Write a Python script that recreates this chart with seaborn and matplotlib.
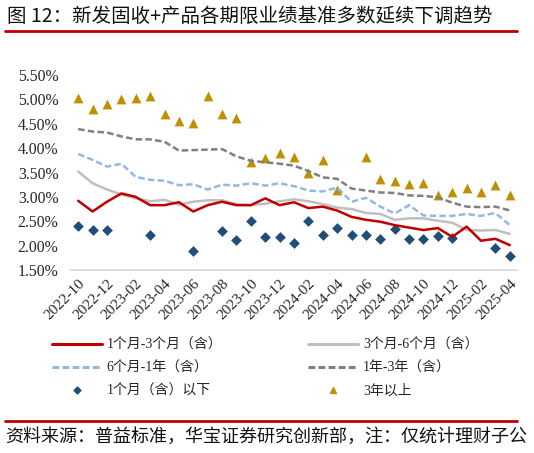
import numpy as np
import pandas as pd
import matplotlib
matplotlib.use("Agg")
import matplotlib.pyplot as plt
from matplotlib.lines import Line2D
import seaborn as sns

# monthly observations 2022-10 .. 2025-04
months = pd.date_range("2022-10-01", periods=31, freq="MS").strftime("%Y-%m").tolist()

m1_3 = [2.92, 2.70, 2.90, 3.07, 3.00, 2.83, 2.83, 2.89, 2.70, 2.83, 2.90, 2.83, 2.83, 2.97, 2.83, 2.89,
        2.77, 2.80, 2.72, 2.59, 2.53, 2.49, 2.42, 2.37, 2.32, 2.36, 2.18, 2.39, 2.10, 2.14, 2.01]
m3_6 = [3.52, 3.28, 3.15, 3.05, 2.97, 2.91, 2.94, 2.84, 2.90, 2.93, 2.93, 2.85, 2.83, 2.86, 2.91, 2.95,
        2.91, 2.85, 2.78, 2.75, 2.67, 2.65, 2.53, 2.56, 2.56, 2.51, 2.47, 2.32, 2.31, 2.32, 2.24]
m6_12 = [3.88, 3.76, 3.62, 3.68, 3.41, 3.35, 3.33, 3.24, 3.26, 3.15, 3.25, 3.23, 3.28, 3.23, 3.28, 3.22,
         3.13, 3.11, 3.19, 2.90, 2.98, 2.80, 2.66, 2.83, 2.62, 2.61, 2.61, 2.65, 2.61, 2.67, 2.42]
y1_3 = [4.39, 4.34, 4.32, 4.24, 4.18, 4.18, 4.13, 3.95, 3.96, 3.97, 3.98, 3.83, 3.74, 3.71, 3.68, 3.64,
        3.53, 3.40, 3.37, 3.17, 3.13, 3.09, 3.08, 3.03, 3.02, 2.99, 2.88, 2.80, 2.79, 2.80, 2.72]
under_1m = [2.41, 2.32, 2.32, np.nan, np.nan, 2.21, np.nan, np.nan, 1.90, np.nan, 2.30, 2.11, 2.50, 2.17,
            2.17, 2.05, 2.50, 2.22, 2.37, 2.21, 2.22, 2.14, 2.35, 2.14, 2.14, 2.20, 2.16, np.nan, np.nan,
            1.95, 1.79]
over_3y = [5.02, 4.80, 4.90, 5.00, 5.02, 5.07, 4.69, 4.56, 4.52, 5.07, 4.69, 4.62, 3.71, 3.80, 3.89, 3.81,
           3.50, 3.76, 3.14, np.nan, 3.81, 3.36, 3.32, 3.26, 3.29, 3.03, 3.09, 3.18, 3.09, 3.24, 3.04]

df = pd.DataFrame({"idx": np.arange(len(months)), "month": months,
                   "m1_3": m1_3, "m3_6": m3_6, "m6_12": m6_12, "y1_3": y1_3,
                   "under_1m": under_1m, "over_3y": over_3y})

sns.set_style("white")
plt.rcParams["font.family"] = ["Liberation Serif", "Noto Sans CJK SC", "DejaVu Sans"]

fig = plt.figure(figsize=(5.34, 4.53), dpi=100)
ax = fig.add_axes([71 / 534, 1 - 270 / 453, 446 / 534, 195 / 453])

RED = "#C00000"
LGRAY = "#BFBFBF"
LBLUE = "#95B8E3"
DGRAY = "#7F7F7F"
NAVY = "#1F4E79"
GOLD = "#BF9000"

sns.lineplot(data=df, x="idx", y="m3_6", ax=ax, color=LGRAY, lw=1.8)
sns.lineplot(data=df, x="idx", y="m1_3", ax=ax, color=RED, lw=1.8)
sns.lineplot(data=df, x="idx", y="m6_12", ax=ax, color=LBLUE, lw=1.8, linestyle=(0, (2.6, 1.3)))
sns.lineplot(data=df, x="idx", y="y1_3", ax=ax, color=DGRAY, lw=1.8, linestyle=(0, (2.6, 1.3)))
sns.scatterplot(data=df, x="idx", y="under_1m", ax=ax, color=NAVY, marker="D", s=30, linewidth=0)
sns.scatterplot(data=df, x="idx", y="over_3y", ax=ax, color=GOLD, marker="^", s=50, linewidth=0)

ax.set_xlim(-0.5, len(months) - 0.5)
ax.set_ylim(1.5, 5.5)
ax.set_yticks(np.arange(1.5, 5.51, 0.5))
ax.set_yticklabels([f"{v:.2f}%" for v in np.arange(1.5, 5.51, 0.5)], fontsize=11.3, color="#262626")
ax.set_xticks(df["idx"][::2])
ax.set_xticklabels(df["month"][::2], rotation=45, ha="right", va="top",
                   rotation_mode="anchor", fontsize=11, color="#262626")
ax.tick_params(axis="y", length=0, pad=9)
ax.tick_params(axis="x", length=0, pad=5)
ax.set_xlabel("")
ax.set_ylabel("")
for side in ["top", "left", "right"]:
    ax.spines[side].set_visible(False)
ax.spines["bottom"].set_color("#D9D9D9")
ax.spines["bottom"].set_linewidth(1.2)

handles = [
    Line2D([], [], color=RED, lw=2.2),
    Line2D([], [], color=LBLUE, lw=2.2, linestyle=(0, (2.2, 1.1))),
    Line2D([], [], color=NAVY, marker="D", markersize=3.5, linestyle="none"),
    Line2D([], [], color=LGRAY, lw=2.2),
    Line2D([], [], color=DGRAY, lw=2.2, linestyle=(0, (2.2, 1.1))),
    Line2D([], [], color=GOLD, marker="^", markersize=4.5, linestyle="none"),
]
labels = ["1个月-3个月（含）", "6个月-1年（含）", "1个月（含）以下",
          "3个月-6个月（含）", "1年-3年（含）", "3年以上"]
fig.legend(handles, labels, ncol=2, loc="upper left", bbox_to_anchor=(39 / 534, 1 - 326 / 453),
           frameon=False, handlelength=3.6, handletextpad=0.35,
           columnspacing=6.2, labelspacing=0.72,
           prop={"family": ["Liberation Serif", "Noto Sans CJK SC"], "size": 10})

fig.text(7 / 534, 1 - 16 / 453, "图 12：新发固收+产品各期限业绩基准多数延续下调趋势",
         fontsize=14, family=["Noto Sans CJK SC"], va="center", ha="left", color="#111111")
fig.add_artist(Line2D([5 / 534, 517 / 534], [1 - 31 / 453, 1 - 31 / 453], color="#C00000", lw=2))
fig.add_artist(Line2D([5 / 534, 517 / 534], [1 - 421 / 453, 1 - 421 / 453], color="#C00000", lw=2))
fig.text(5 / 534, 1 - 437 / 453, "资料来源：普益标准，华宝证券研究创新部，注：仅统计理财子公",
         fontsize=13, family=["Noto Sans CJK SC"], va="center", ha="left", color="#111111")

fig.savefig("out.png", dpi=100)
